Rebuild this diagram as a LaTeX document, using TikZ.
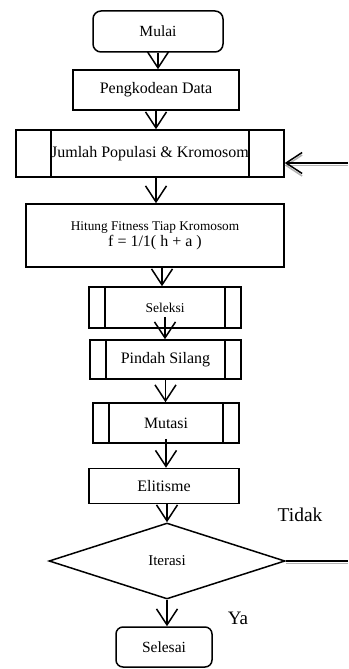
\documentclass[tikz,border=0pt]{standalone}
\usepackage{fontspec}
\setmainfont{Liberation Serif}
\usetikzlibrary{shapes.geometric, arrows.meta}

\begin{document}
\begin{tikzpicture}[x=1pt, y=-1pt, line width=1.5pt,
    terminal/.style = {draw, rectangle, rounded corners=8pt, inner sep=0pt},
    proses/.style = {draw, rectangle, inner sep=0pt},
    subproses/.style = {draw, rectangle, inner sep=0pt, path picture={
        \draw ([xshift=#1]path picture bounding box.north west) -- ([xshift=#1]path picture bounding box.south west);
        \draw ([xshift=-#1]path picture bounding box.north east) -- ([xshift=-#1]path picture bounding box.south east);}},
    keputusan/.style = {draw, diamond, inner sep=0pt},
    panah/.style = {-{Straight Barb[length=16pt, width=21pt]}},
    bayang/.style = {preaction={draw=gray!60, transform canvas={yshift=-2.5pt}}}]
    \useasboundingbox (0,0) rectangle (348,669);

    \node[terminal, minimum width=130pt, minimum height=41pt, font=\fontsize{15.5}{18}\selectfont] (mulai) at (158,31.5) {Mulai};
    \node[proses, minimum width=166pt, minimum height=40pt, font=\fontsize{16}{19}\selectfont] (peng) at (156,90) {Pengkodean Data};
    \node[subproses=35pt, minimum width=268pt, minimum height=47pt, font=\fontsize{16}{19}\selectfont] (jumlah) at (150,153.5) {Jumlah Populasi \& Kromosom};
    \node[proses, minimum width=258pt, minimum height=63pt, align=center] (hitung) at (155,235.5)
        {{\fontsize{13.3}{17}\selectfont Hitung Fitness Tiap Kromosom}\\[1pt]{\fontsize{16}{17}\selectfont f = 1/1( h + a )}};
    \node[subproses=16pt, minimum width=152pt, minimum height=41pt, font=\fontsize{13.5}{16}\selectfont] (seleksi) at (165,307.5) {Seleksi};
    \node[subproses=16pt, minimum width=151pt, minimum height=39pt, font=\fontsize{16}{19}\selectfont] (pindah) at (165.5,359.5) {Pindah Silang};
    \node[subproses=16pt, minimum width=146pt, minimum height=40pt, font=\fontsize{15.8}{19}\selectfont] (mutasi) at (166,423) {Mutasi};
    \node[proses, minimum width=150pt, minimum height=35pt, font=\fontsize{16}{19}\selectfont] (elitisme) at (164,486) {Elitisme};
    \node[keputusan, minimum width=236pt, minimum height=76pt, font=\fontsize{15}{18}\selectfont] (iterasi) at (167,561) {Iterasi};
    \node[terminal, rounded corners=7pt, minimum width=96pt, minimum height=40pt, font=\fontsize{15.5}{18}\selectfont] (selesai) at (164,647) {Selesai};

    \node[font=\fontsize{19.5}{22}\selectfont] (tidak) at (300,515) {Tidak};
    \node[font=\fontsize{19}{22}\selectfont] (ya) at (238,618) {Ya};

    \coordinate (balikA) at (348,163);
    \coordinate (balikB) at (348,559);

    \draw[panah] (mulai.south) -- (mulai.south |- peng.north);
    \draw[panah] (peng.south) -- (peng.south |- jumlah.north);
    \draw[panah] (peng.south |- jumlah.south) -- (peng.south |- hitung.north);
    \draw[panah] ([xshift=-3pt]seleksi.north |- hitung.south) -- ([xshift=-3pt]seleksi.north);
    \draw[panah] ([yshift=12pt]seleksi.south) -- (seleksi.south |- pindah.north);
    \draw[panah] (pindah.south) -- (pindah.south |- mutasi.north);
    \draw[panah] ([yshift=5pt]mutasi.south) -- (mutasi.south |- elitisme.north);
    \draw[panah] (iterasi.north |- elitisme.south) -- (iterasi.north);
    \draw[panah] (iterasi.south) -- (iterasi.south |- selesai.north);

    \draw[bayang] (iterasi.east) -- (iterasi.east -| balikB);
    \draw[panah, bayang] (balikA) -- (balikA -| jumlah.east);
\end{tikzpicture}
\end{document}
